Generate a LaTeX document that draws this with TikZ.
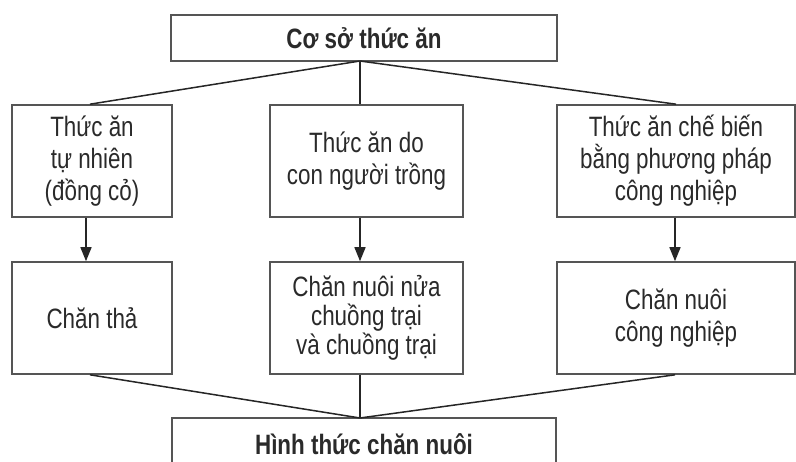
\documentclass[tikz,border=0pt]{standalone}
\usepackage{fontspec}
\setmainfont{Liberation Sans}[FakeStretch=0.8]
\usetikzlibrary{arrows.meta}
\definecolor{boxline}{HTML}{555555}
\definecolor{txt}{HTML}{2A2A2A}
\tikzset{
  box/.style={draw=boxline, line width=1.6pt, inner sep=0pt, align=center, text=txt,
    font=\fontsize{28}{32}\selectfont},
  conn/.style={draw=black!85, line width=1.5pt},
  arr/.style={conn, -{Triangle[length=14pt,width=11pt]}},
}
\begin{document}
\begin{tikzpicture}[x=1pt,y=-1pt]
\useasboundingbox (0,0) rectangle (796,462);
\clip (0,0) rectangle (796,462);
\fill[white] (0,0) rectangle (796,462);
% top
\node[box, minimum width=386pt, minimum height=46pt, font=\fontsize{28}{32}\bfseries\selectfont] (top) at (364,38) {Cơ sở thức ăn};
% row 1
\node[box, minimum width=160pt, minimum height=112pt] (a1) at (92,161) {Thức ăn\\tự nhiên\\(đồng cỏ)};
\node[box, minimum width=193pt, minimum height=112pt] (b1) at (366.5,161) {Thức ăn do\\con người trồng};
\node[box, minimum width=238pt, minimum height=112pt] (c1) at (676,161) {Thức ăn chế biến\\bằng phương pháp\\công nghiệp};
% row 2
\node[box, minimum width=160pt, minimum height=112pt] (a2) at (92,318) {Chăn thả};
\node[box, minimum width=193pt, minimum height=112pt, font=\fontsize{28}{29}\selectfont] (b2) at (366.5,318) {Chăn nuôi nửa\\chuồng trại\\và chuồng trại};
\node[box, minimum width=238pt, minimum height=112pt] (c2) at (676,318) {Chăn nuôi\\công nghiệp};
% bottom
\node[box, minimum width=384pt, minimum height=52pt, font=\fontsize{28}{32}\bfseries\selectfont] (bot) at (364,444) {Hình thức chăn nuôi};
% connectors top
\coordinate (j1) at (360,61);
\draw[conn] (j1) -- ([xshift=-2pt]a1.north);
\draw[conn] (j1) -- (j1 |- b1.north);
\draw[conn] (j1) -- (c1.north);
% arrows
\draw[arr] ([xshift=-6pt]a1.south) -- ([xshift=-6pt]a2.north);
\draw[arr] ([xshift=-6.5pt]b1.south) -- ([xshift=-6.5pt]b2.north);
\draw[arr] ([xshift=-1pt]c1.south) -- ([xshift=-1pt]c2.north);
% connectors bottom
\coordinate (j2) at (360,418);
\draw[conn] ([xshift=-2pt]a2.south) -- (j2);
\draw[conn] (j2 |- b2.south) -- (j2);
\draw[conn] ([xshift=-1pt]c2.south) -- (j2);
\end{tikzpicture}
\end{document}
